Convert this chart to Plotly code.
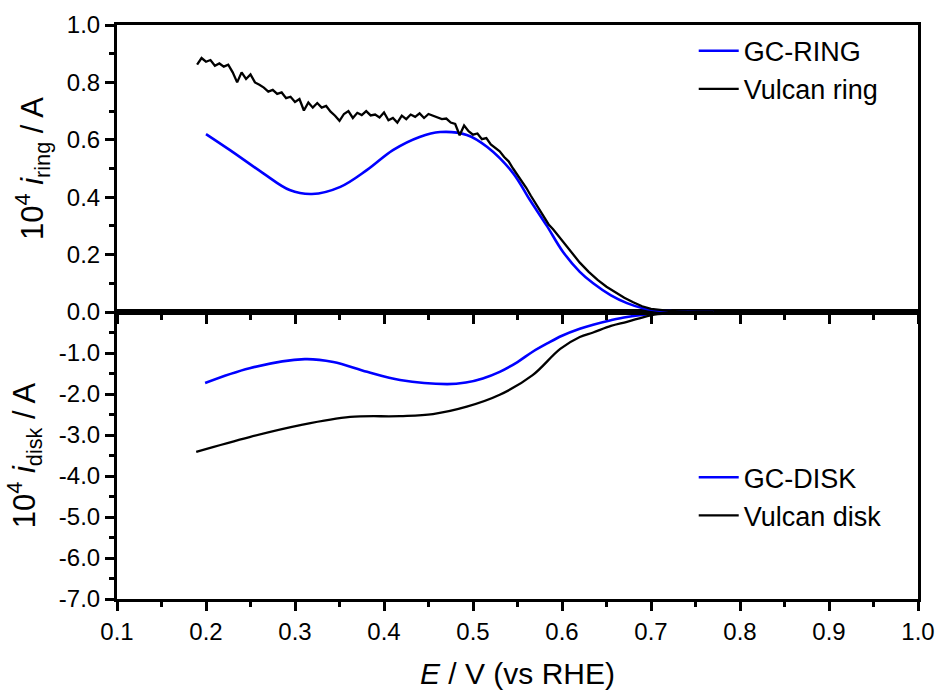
import plotly.graph_objects as go

# ---------------- data ----------------
# Ring currents (10^4 i_ring / A)
E_ring_gc = [0.200, 0.227, 0.264, 0.294, 0.319, 0.351, 0.381, 0.410, 0.440, 0.463,
             0.493, 0.516, 0.545, 0.564, 0.583, 0.601, 0.620, 0.635, 0.655, 0.673,
             0.690, 0.705, 0.720, 0.740, 0.770]
I_ring_gc = [0.620, 0.564, 0.484, 0.425, 0.411, 0.436, 0.495, 0.564, 0.610, 0.627,
             0.617, 0.575, 0.484, 0.390, 0.300, 0.210, 0.140, 0.100, 0.058, 0.031,
             0.014, 0.006, 0.003, 0.001, 0.000]

E_ring_vulcan = [0.190, 0.195, 0.200, 0.205, 0.210, 0.215, 0.220, 0.225, 0.230, 0.235,
                 0.240, 0.245, 0.250, 0.255, 0.260, 0.265, 0.270, 0.275, 0.280, 0.285,
                 0.290, 0.295, 0.300, 0.305, 0.310, 0.315, 0.320, 0.325, 0.330, 0.335,
                 0.340, 0.345, 0.350, 0.355, 0.360, 0.365, 0.370, 0.375, 0.380, 0.385,
                 0.390, 0.395, 0.400, 0.405, 0.410, 0.415, 0.420, 0.425, 0.430, 0.435,
                 0.440, 0.445, 0.450, 0.455, 0.460, 0.465, 0.470, 0.475, 0.480, 0.485,
                 0.490, 0.495, 0.500, 0.505, 0.510, 0.515, 0.520, 0.525, 0.530, 0.535,
                 0.540, 0.545, 0.550, 0.555, 0.560, 0.565, 0.570, 0.575, 0.580, 0.585,
                 0.590, 0.595, 0.600, 0.610, 0.620, 0.630, 0.640, 0.650, 0.660, 0.670,
                 0.680, 0.690, 0.700, 0.720, 0.740, 0.770]
I_ring_vulcan = [0.862, 0.885, 0.872, 0.878, 0.858, 0.866, 0.855, 0.862, 0.835, 0.800,
                 0.835, 0.812, 0.828, 0.800, 0.792, 0.782, 0.768, 0.774, 0.760, 0.765,
                 0.745, 0.750, 0.732, 0.742, 0.702, 0.730, 0.712, 0.728, 0.712, 0.718,
                 0.698, 0.684, 0.666, 0.690, 0.700, 0.676, 0.694, 0.686, 0.700, 0.685,
                 0.688, 0.678, 0.695, 0.668, 0.676, 0.660, 0.684, 0.672, 0.688, 0.680,
                 0.692, 0.676, 0.690, 0.684, 0.680, 0.672, 0.674, 0.660, 0.655, 0.616,
                 0.650, 0.630, 0.618, 0.622, 0.602, 0.606, 0.584, 0.572, 0.560, 0.540,
                 0.525, 0.500, 0.478, 0.458, 0.432, 0.405, 0.380, 0.352, 0.328, 0.305,
                 0.288, 0.268, 0.252, 0.210, 0.172, 0.140, 0.112, 0.088, 0.068, 0.050,
                 0.034, 0.020, 0.011, 0.004, 0.001, 0.000]

# Disk currents (10^4 i_disk / A)
E_disk_gc = [0.199, 0.249, 0.311, 0.343, 0.381, 0.418, 0.471, 0.492, 0.511, 0.530,
             0.550, 0.567, 0.584, 0.600, 0.620, 0.635, 0.655, 0.673, 0.700, 0.720,
             0.740, 0.770]
I_disk_gc = [-1.73, -1.37, -1.15, -1.22, -1.46, -1.66, -1.76, -1.72, -1.62, -1.46,
             -1.22, -0.97, -0.76, -0.58, -0.41, -0.31, -0.20, -0.12, -0.05, -0.02,
             -0.01, 0.00]

E_disk_vulcan = [0.189, 0.249, 0.306, 0.362, 0.418, 0.455, 0.493, 0.530, 0.567, 0.598,
                 0.620, 0.635, 0.655, 0.673, 0.700, 0.720, 0.740, 0.770]
I_disk_vulcan = [-3.41, -3.05, -2.76, -2.56, -2.54, -2.49, -2.31, -2.02, -1.54, -0.90,
                 -0.61, -0.50, -0.34, -0.24, -0.08, -0.03, -0.01, 0.00]

# tick labels
x_ticks = [0.1, 0.2, 0.3, 0.4, 0.5, 0.6, 0.7, 0.8, 0.9, 1.0]
x_ticklabels = ["0.1", "0.2", "0.3", "0.4", "0.5", "0.6", "0.7", "0.8", "0.9", "1.0"]
ring_ticks = [0.0, 0.2, 0.4, 0.6, 0.8, 1.0]
ring_ticklabels = ["0.0", "0.2", "0.4", "0.6", "0.8", "1.0"]
disk_ticks = [-7, -6, -5, -4, -3, -2, -1]
disk_ticklabels = ["-7.0", "-6.0", "-5.0", "-4.0", "-3.0", "-2.0", "-1.0"]

# ---------------- figure ----------------
BLUE = "#0000ff"
BLACK = "#000000"
FONT = "Liberation Sans, Arial, sans-serif"

fig = go.Figure()
fig.add_trace(go.Scatter(x=E_ring_gc, y=I_ring_gc, mode="lines", name="GC-RING",
                         line=dict(color=BLUE, width=2.6, shape="spline"),
                         xaxis="x2", yaxis="y", legend="legend"))
fig.add_trace(go.Scatter(x=E_ring_vulcan, y=I_ring_vulcan, mode="lines", name="Vulcan ring",
                         line=dict(color=BLACK, width=2.3),
                         xaxis="x2", yaxis="y", legend="legend"))
fig.add_trace(go.Scatter(x=E_disk_gc, y=I_disk_gc, mode="lines", name="GC-DISK",
                         line=dict(color=BLUE, width=2.6, shape="spline"),
                         xaxis="x", yaxis="y2", legend="legend2"))
fig.add_trace(go.Scatter(x=E_disk_vulcan, y=I_disk_vulcan, mode="lines", name="Vulcan disk",
                         line=dict(color=BLACK, width=2.3, shape="spline"),
                         xaxis="x", yaxis="y2", legend="legend2"))

axis_common = dict(showline=True, linecolor=BLACK, linewidth=3, mirror=True,
                   showgrid=False, zeroline=False, ticks="outside", ticklen=9,
                   tickwidth=2.5, tickcolor=BLACK, automargin=False,
                   tickfont=dict(family=FONT, size=24, color=BLACK))

fig.update_layout(
    width=940, height=693,
    margin=dict(l=117, r=22, t=25, b=94),
    paper_bgcolor="white", plot_bgcolor="white",
    font=dict(family=FONT, color=BLACK),
    showlegend=True,
    xaxis=dict(domain=[0, 1], anchor="y2", range=[0.1, 1.0],
               tickmode="array", tickvals=x_ticks, ticktext=x_ticklabels,
               minor=dict(tick0=0.1, dtick=0.05, ticks="outside", ticklen=5,
                          tickwidth=2.5, tickcolor=BLACK),
               title=dict(text="<i>E</i> / V (vs RHE)", font=dict(family=FONT, size=30, color=BLACK),
                          standoff=20),
               **axis_common),
    xaxis2=dict(domain=[0, 1], anchor="y", range=[0.1, 1.0], matches="x",
                tickmode="array", tickvals=x_ticks, showticklabels=False,
                minor=dict(tick0=0.1, dtick=0.05, ticks="outside", ticklen=5,
                           tickwidth=2.5, tickcolor=BLACK),
                **axis_common),
    yaxis=dict(domain=[0.5, 1], anchor="x2", range=[0, 1.0],
               tickmode="array", tickvals=ring_ticks, ticktext=ring_ticklabels,
               minor=dict(tick0=0, dtick=0.1, ticks="outside", ticklen=5,
                          tickwidth=2.5, tickcolor=BLACK),
               title=dict(text="10<sup>4</sup> <i>i</i><sub>ring</sub> / A",
                          font=dict(family=FONT, size=31, color=BLACK), standoff=14),
               **axis_common),
    yaxis2=dict(domain=[0, 0.5], anchor="x", range=[-7, 0],
                tickmode="array", tickvals=disk_ticks, ticktext=disk_ticklabels,
                minor=dict(tick0=0, dtick=0.5, ticks="outside", ticklen=5,
                           tickwidth=2.5, tickcolor=BLACK),
                title=dict(text="10<sup>4</sup> <i>i</i><sub>disk</sub> / A",
                           font=dict(family=FONT, size=31, color=BLACK), standoff=14),
                **axis_common),
    legend=dict(x=0.72, y=0.997, xanchor="left", yanchor="top",
                bgcolor="rgba(0,0,0,0)", borderwidth=0,
                font=dict(family=FONT, size=27, color=BLACK), itemwidth=40),
    legend2=dict(x=0.72, y=0.254, xanchor="left", yanchor="top",
                 bgcolor="rgba(0,0,0,0)", borderwidth=0,
                 font=dict(family=FONT, size=27, color=BLACK), itemwidth=40),
)

fig.write_html("out.html")
